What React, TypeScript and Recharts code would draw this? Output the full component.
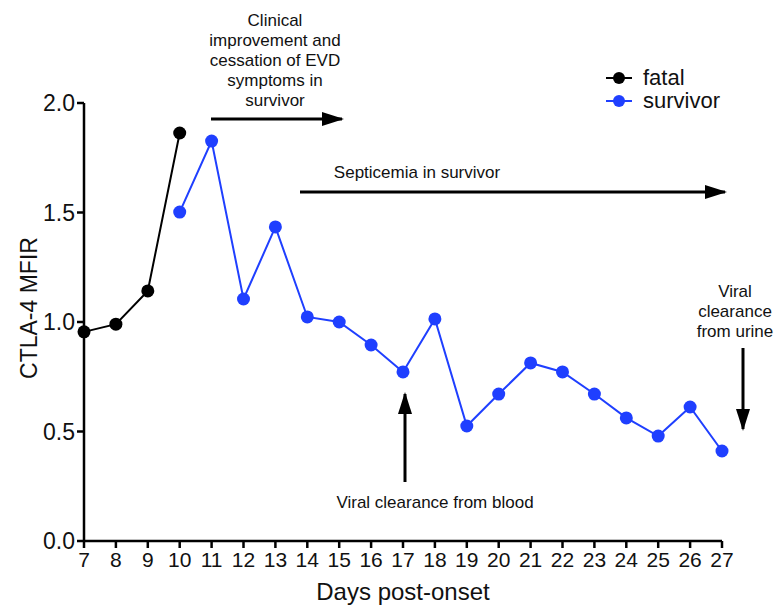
import React from 'react';
import { LineChart, Line, XAxis, YAxis } from 'recharts';

// days post-onset and CTLA-4 MFIR
const fatalDays = [7, 8, 9, 10];
const fatalValues = [0.955, 0.99, 1.142, 1.863];
const survivorDays = [10, 11, 12, 13, 14, 15, 16, 17, 18, 19, 20, 21, 22, 23, 24, 25, 26, 27];
const survivorValues = [
    1.502, 1.826, 1.105, 1.434, 1.023, 1.0, 0.895, 0.772, 1.014,
    0.525, 0.671, 0.813, 0.772, 0.671, 0.562, 0.479, 0.612, 0.411,
];
const xTicks = [7, 8, 9, 10, 11, 12, 13, 14, 15, 16, 17, 18, 19, 20, 21, 22, 23, 24, 25, 26, 27];
const yTicks = [0, 0.5, 1.0, 1.5, 2.0];

const BLUE = '#1f3fff';
const FONT = '"Liberation Sans", Arial, Helvetica, sans-serif';

const fatal = fatalDays.map((d, i) => ({ day: d, value: fatalValues[i] }));
const survivor = survivorDays.map((d, i) => ({ day: d, value: survivorValues[i] }));

const seriesInfo = [
    { name: 'fatal', color: '#000' },
    { name: 'survivor', color: BLUE },
];

function LegendBox() {
    return (
        <div style={{ position: 'absolute', left: 602, top: 66, fontFamily: FONT, fontSize: 22, lineHeight: '23px' }}>
            {seriesInfo.map((s) => (
                <div key={s.name} style={{ display: 'flex', alignItems: 'center', height: 23 }}>
                    <svg width={36} height={20}>
                        <line x1={4} y1={10} x2={30} y2={10} stroke={s.color} strokeWidth={2} />
                        <circle cx={17} cy={10} r={6} fill={s.color} />
                    </svg>
                    <span style={{ color: '#111', marginLeft: 5 }}>{s.name}</span>
                </div>
            ))}
        </div>
    );
}

function Annotations() {
    const txt = { fontFamily: FONT, fontSize: 17, fill: '#111', textAnchor: 'middle' as const };
    return (
        <svg width={774} height={608} style={{ position: 'absolute', left: 0, top: 0, pointerEvents: 'none' }}>
            <defs>
                <marker id="ah" viewBox="0 0 22 14" refX={20} refY={7} markerWidth={22} markerHeight={14}
                    orient="auto" markerUnits="userSpaceOnUse">
                    <path d="M0,0 L22,7 L0,14 z" fill="#000" />
                </marker>
            </defs>
            <text {...txt} x={275} y={26}>Clinical</text>
            <text {...txt} x={275} y={46}>improvement and</text>
            <text {...txt} x={275} y={66}>cessation of EVD</text>
            <text {...txt} x={275} y={86}>symptoms in</text>
            <text {...txt} x={275} y={106}>survivor</text>
            <line x1={211} y1={119} x2={342} y2={119} stroke="#000" strokeWidth={3} markerEnd="url(#ah)" />

            <text {...txt} x={417} y={178}>Septicemia in survivor</text>
            <line x1={300} y1={192} x2={725} y2={192} stroke="#000" strokeWidth={3} markerEnd="url(#ah)" />

            <line x1={405} y1={482} x2={405} y2={394} stroke="#000" strokeWidth={3} markerEnd="url(#ah)" />
            <text {...txt} x={435} y={508}>Viral clearance from blood</text>

            <text {...txt} x={735} y={297}>Viral</text>
            <text {...txt} x={735} y={317}>clearance</text>
            <text {...txt} x={735} y={337}>from urine</text>
            <line x1={743} y1={348} x2={743} y2={429} stroke="#000" strokeWidth={3} markerEnd="url(#ah)" />

            <text x={37} y={308} transform="rotate(-90 37 308)" textAnchor="middle"
                fontFamily={FONT} fontSize={23} fill="#111">CTLA-4 MFIR</text>
        </svg>
    );
}

export default function App() {
    return (
        <div style={{ position: 'absolute', left: 0, top: 0, width: 774, height: 608, background: '#fff' }}>
            <LineChart width={774} height={608} margin={{ top: 103, right: 52, left: 0, bottom: 0 }}>
                <XAxis
                    type="number"
                    dataKey="day"
                    domain={[7, 27]}
                    ticks={xTicks}
                    interval={0}
                    height={67}
                    stroke="#000"
                    strokeWidth={2.5}
                    tickSize={7}
                    tickMargin={4}
                    tick={{ fill: '#111', fontSize: 21, fontFamily: FONT }}
                    allowDuplicatedCategory={false}
                    label={{ value: 'Days post-onset', position: 'insideBottom', offset: 8, fill: '#111', fontSize: 24, fontFamily: FONT }}
                />
                <YAxis
                    type="number"
                    domain={[0, 2]}
                    ticks={yTicks}
                    width={84}
                    stroke="#000"
                    strokeWidth={2.5}
                    tickSize={7}
                    tickFormatter={(v) => v.toFixed(1)}
                    tick={{ fill: '#111', fontSize: 23, fontFamily: FONT }}
                />
                <Line
                    data={fatal}
                    dataKey="value"
                    name="fatal"
                    stroke="#000"
                    strokeWidth={2}
                    dot={{ r: 6.5, fill: '#000', stroke: '#000', strokeWidth: 0 }}
                    isAnimationActive={false}
                />
                <Line
                    data={survivor}
                    dataKey="value"
                    name="survivor"
                    stroke={BLUE}
                    strokeWidth={2}
                    dot={{ r: 6.5, fill: BLUE, stroke: BLUE, strokeWidth: 0 }}
                    isAnimationActive={false}
                />
            </LineChart>
            <LegendBox />
            <Annotations />
        </div>
    );
}
